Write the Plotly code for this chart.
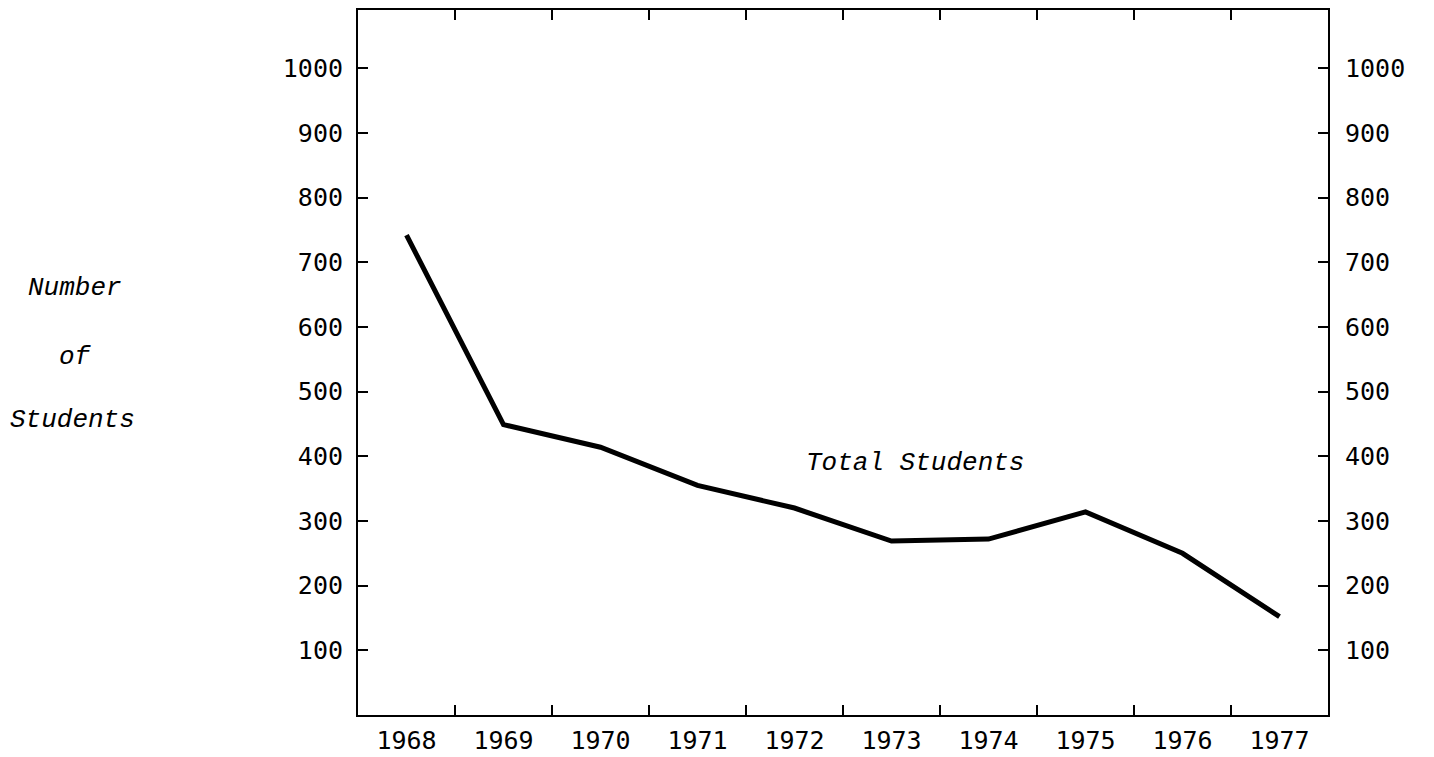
import plotly.graph_objs as go

# enrolment
years = ['1968', '1969', '1970', '1971', '1972', '1973', '1974', '1975', '1976', '1977']
students = [742, 449, 414, 355, 320, 269, 272, 314, 250, 152]
y_ticks = [100, 200, 300, 400, 500, 600, 700, 800, 900, 1000]

tick_font = dict(family='DejaVu Sans Mono', size=25, color='black')
label_font = dict(family='Liberation Mono', size=26, color='black')

fig = go.Figure()
fig.add_trace(go.Scatter(
    x=years, y=students, mode='lines',
    line=dict(color='black', width=5),
    showlegend=False, hoverinfo='x+y',
))
# same series on the right-hand axis, invisible, just so the axis is drawn
fig.add_trace(go.Scatter(
    x=years, y=students, mode='lines', yaxis='y2',
    line=dict(color='rgba(0,0,0,0)', width=0),
    showlegend=False, hoverinfo='skip',
))

axis_common = dict(
    showline=True, linecolor='black', linewidth=2,
    ticks='inside', ticklen=10, tickwidth=1.5, tickcolor='black',
    showgrid=False, zeroline=False, tickfont=tick_font, automargin=False,
)

# page body adds an 8px offset, so the figure is a little smaller than the window
W, H = 1426, 749
L, R, T, B = 350, 106, 2, 42

fig.update_layout(
    width=W, height=H,
    margin=dict(l=L, r=R, t=T, b=B),
    paper_bgcolor='white', plot_bgcolor='white',
    xaxis=dict(
        type='category', tickson='boundaries', mirror='ticks',
        range=[-0.5, 9.5], ticklabelstandoff=2, **axis_common,
    ),
    yaxis=dict(
        range=[0, 1090], tickvals=y_ticks, side='left',
        ticklabelstandoff=8, **axis_common,
    ),
    yaxis2=dict(
        range=[0, 1090], tickvals=y_ticks, side='right', overlaying='y',
        ticklabelstandoff=10, **axis_common,
    ),
)

fig.add_annotation(
    text='<i>Total Students</i>', x=4.1, y=390, xref='x', yref='y',
    xanchor='left', yanchor='middle', showarrow=False, font=label_font,
)

# axis title in three lines at the far left, given as page pixels
plot_w = W - L - R
plot_h = H - T - B
side_labels = [('Number', 75, 288), ('of', 75, 357), ('Students', 72, 420)]
for text, px, py in side_labels:
    fig.add_annotation(
        text=f'<i>{text}</i>', xref='paper', yref='paper',
        x=(px - 8 - L) / plot_w, y=(H - (py - 8) - B) / plot_h,
        xanchor='center', yanchor='middle', showarrow=False, font=label_font,
    )

fig.write_html("out.html")
